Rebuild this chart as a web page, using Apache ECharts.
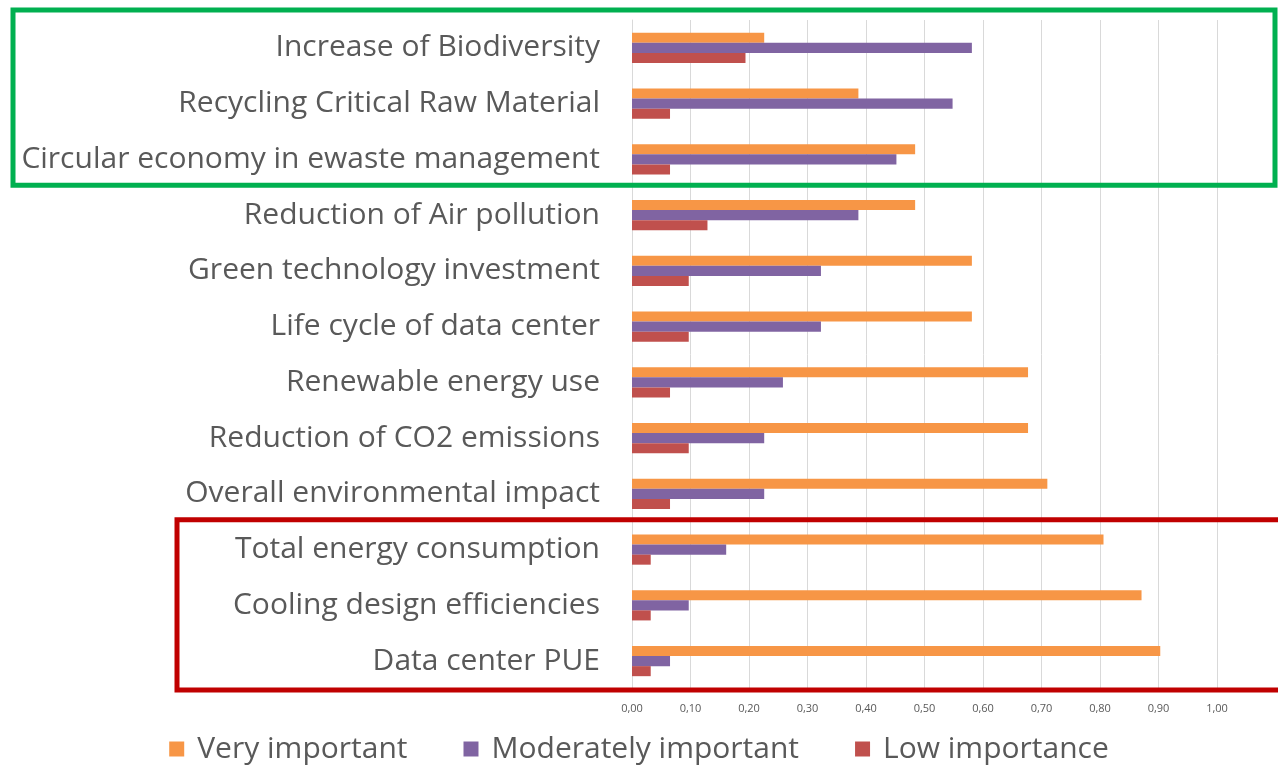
<!DOCTYPE html>
<html>
<head>
<meta charset="utf-8">
<script src="https://cdn.jsdelivr.net/npm/echarts@6/dist/echarts.min.js"></script>
<style>
  html, body { margin: 0; padding: 0; background: #fff; }
  #main { width: 1278px; height: 766px; }
</style>
</head>
<body>
<div id="main"></div>
<script>
// categories top to bottom
var categories = [
  'Increase of Biodiversity',
  'Recycling Critical Raw Material',
  'Circular economy in ewaste management',
  'Reduction of Air pollution',
  'Green technology investment',
  'Life cycle of data center',
  'Renewable energy use',
  'Reduction of CO2 emissions',
  'Overall environmental impact',
  'Total energy consumption',
  'Cooling design efficiencies',
  'Data center PUE'
];
var veryImportant = [0.226, 0.387, 0.484, 0.484, 0.581, 0.581, 0.677, 0.677, 0.710, 0.806, 0.871, 0.903];
var moderatelyImportant = [0.581, 0.548, 0.452, 0.387, 0.323, 0.323, 0.258, 0.226, 0.226, 0.161, 0.097, 0.065];
var lowImportance = [0.194, 0.065, 0.065, 0.129, 0.097, 0.097, 0.065, 0.097, 0.065, 0.032, 0.032, 0.032];
var xTicks = [0, 0.1, 0.2, 0.3, 0.4, 0.5, 0.6, 0.7, 0.8, 0.9, 1.0];

var chart = echarts.init(document.getElementById('main'));
var font = '"Open Sans", sans-serif';

var option = {
  animation: false,
  color: ['#F79646', '#8064A2', '#C0504D'],
  grid: { left: 632, right: 61, top: 20, bottom: 77 },
  legend: {
    bottom: -3,
    left: 'center',
    itemWidth: 15,
    itemHeight: 15,
    itemGap: 56,
    icon: 'rect',
    textStyle: { fontFamily: font, fontSize: 30, color: '#595959', padding: [0, 0, 0, 8] },
    data: ['Very important', 'Moderately important', 'Low importance']
  },
  xAxis: {
    type: 'value',
    min: xTicks[0],
    max: xTicks[xTicks.length - 1],
    interval: 0.1,
    axisLine: { show: false },
    axisTick: { show: false },
    splitLine: { show: true, lineStyle: { color: '#D9D9D9', width: 1 } },
    axisLabel: {
      fontFamily: font, fontSize: 11, color: '#595959', margin: 14,
      formatter: function (v) { return v.toFixed(2).replace('.', ','); }
    }
  },
  yAxis: {
    type: 'category',
    inverse: true,
    data: categories,
    axisLine: { show: true, lineStyle: { color: '#D9D9D9' } },
    axisTick: { show: false },
    axisLabel: { fontFamily: font, fontSize: 30, color: '#595959', margin: 32, lineHeight: 36, padding: [3, 0, 0, 0] }
  },
  series: [
    { name: 'Very important', type: 'bar', data: veryImportant, barGap: '0%', barCategoryGap: '46%' },
    { name: 'Moderately important', type: 'bar', data: moderatelyImportant, barGap: '0%', barCategoryGap: '46%' },
    { name: 'Low importance', type: 'bar', data: lowImportance, barGap: '0%', barCategoryGap: '46%' }
  ]
};
chart.setOption(option);

// highlight boxes around category groups, placed from the axis scale
function bandEdge(idx, side) {
  var c = chart.convertToPixel({ yAxisIndex: 0 }, categories[idx]);
  var half = (chart.convertToPixel({ yAxisIndex: 0 }, categories[1]) - chart.convertToPixel({ yAxisIndex: 0 }, categories[0])) / 2;
  return c + side * half;
}
var gTop = bandEdge(0, -1) - 10, gBot = bandEdge(2, 1) - 2;
var rTop = bandEdge(9, -1) - 2, rBot = bandEdge(11, 1) + 1;
chart.setOption({
  graphic: [
    { type: 'rect', shape: { x: 13, y: gTop, width: 1262, height: gBot - gTop }, style: { fill: 'none', stroke: '#00B050', lineWidth: 5 }, z: 100 },
    { type: 'rect', shape: { x: 177, y: rTop, width: 1110, height: rBot - rTop }, style: { fill: 'none', stroke: '#C00000', lineWidth: 5 }, z: 100 }
  ]
});
</script>
</body>
</html>
